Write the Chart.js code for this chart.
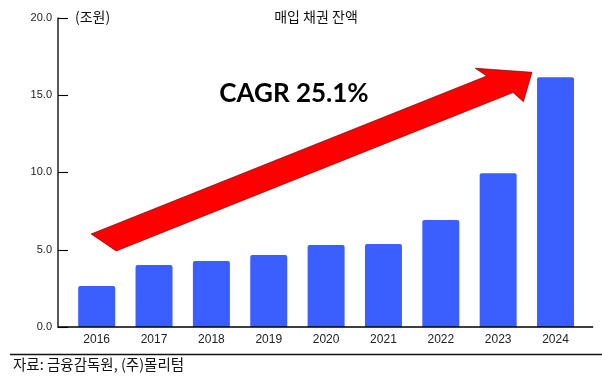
<!DOCTYPE html>
<html>
<head>
<meta charset="utf-8">
<script src="https://cdn.jsdelivr.net/npm/chart.js@4/dist/chart.umd.min.js"></script>
<style>
  html, body { margin: 0; padding: 0; background: #fff; }
  #wrap { position: relative; width: 602px; height: 381px; }
</style>
</head>
<body>
<div id="wrap"><canvas id="c" width="602" height="381"></canvas></div>
<script>
const categories = ['2016', '2017', '2018', '2019', '2020', '2021', '2022', '2023', '2024'];
const balance = [2.65, 4.0, 4.27, 4.65, 5.3, 5.37, 6.92, 9.93, 16.14];
const yTicks = [0, 5, 10, 15, 20];
const titleText = '매입 채권 잔액';
const unitText = '(조원)';
const sourceText = '자료: 금융감독원, (주)몰리텀';
const cagrText = 'CAGR 25.1%';

// Arrow annotation in data space: [category index, value]
const arrowShape = [
  [-0.096, 6.01], [6.80, 16.22], [6.60, 16.72], [7.59, 16.46],
  [7.44, 14.56], [7.26, 15.15], [0.34, 4.91]
];
const cagrAnchor = [3.44, 15.1];

const KFONT = '"Noto Sans CJK KR", "Noto Sans", sans-serif';

const decor = {
  id: 'decor',
  afterDatasetsDraw(chart) {
    const ctx = chart.ctx;
    const x = chart.scales.x, y = chart.scales.y;
    const area = chart.chartArea;
    ctx.save();
    // arrow
    ctx.beginPath();
    arrowShape.forEach((p, i) => {
      const px = x.getPixelForValue(p[0]);
      const py = y.getPixelForValue(p[1]);
      if (i === 0) ctx.moveTo(px, py); else ctx.lineTo(px, py);
    });
    ctx.closePath();
    ctx.fillStyle = '#FF0000';
    ctx.fill();
    ctx.strokeStyle = 'rgba(110,0,0,0.75)';
    ctx.lineWidth = 0.9;
    ctx.stroke();

    // CAGR text
    ctx.fillStyle = '#000';
    ctx.font = 'bold 26px Lato, "Liberation Sans", sans-serif';
    ctx.textAlign = 'center';
    ctx.textBaseline = 'middle';
    ctx.fillText(cagrText, x.getPixelForValue(cagrAnchor[0]), y.getPixelForValue(cagrAnchor[1]));

    // axes
    const axL = area.left - 10;
    const yBot = y.getPixelForValue(0);
    const yTop = y.getPixelForValue(20);
    ctx.strokeStyle = '#000';
    ctx.lineWidth = 1.3;
    ctx.beginPath();
    ctx.moveTo(axL, yTop);
    ctx.lineTo(axL, yBot);
    ctx.lineTo(area.right + 9, yBot);
    ctx.stroke();
    ctx.lineWidth = 1.1;
    yTicks.forEach(v => {
      const py = Math.round(y.getPixelForValue(v)) + 0.5;
      ctx.beginPath();
      ctx.moveTo(axL, py);
      ctx.lineTo(area.left, py);
      ctx.stroke();
    });

    // title & unit
    ctx.font = '14px ' + KFONT;
    ctx.textBaseline = 'middle';
    ctx.fillStyle = '#111';
    ctx.textAlign = 'center';
    ctx.fillText(titleText, 316, 17);
    ctx.textAlign = 'left';
    ctx.fillText(unitText, 75, 17);

    // source line and text
    ctx.strokeStyle = '#111';
    ctx.lineWidth = 1.4;
    ctx.beginPath();
    ctx.moveTo(10, 354.5);
    ctx.lineTo(602, 354.5);
    ctx.stroke();
    ctx.fillStyle = '#111';
    ctx.textAlign = 'left';
    ctx.font = '14.5px ' + KFONT;
    ctx.fillText(sourceText, 13, 364.5);
    ctx.restore();
  }
};

new Chart(document.getElementById('c'), {
  type: 'bar',
  data: {
    labels: categories,
    datasets: [{
      data: balance,
      backgroundColor: '#3A5EFF',
      borderWidth: 0,
      borderRadius: { topLeft: 2, topRight: 2, bottomLeft: 0, bottomRight: 0 },
      borderSkipped: false,
      categoryPercentage: 1,
      barPercentage: 0.645
    }]
  },
  options: {
    responsive: false,
    animation: false,
    devicePixelRatio: 1,
    layout: { padding: { top: 17.5, right: 17.8, bottom: 0, left: 0 } },
    plugins: { legend: { display: false }, tooltip: { enabled: false }, title: { display: false } },
    scales: {
      x: {
        grid: { display: false, drawTicks: false },
        border: { display: false },
        ticks: { color: '#222', font: { family: '"Liberation Sans", Arial, sans-serif', size: 12 }, padding: 5 },
        afterFit(s) { s.height = 54; }
      },
      y: {
        min: 0, max: 20,
        afterBuildTicks(s) { s.ticks = yTicks.map(v => ({ value: v })); },
        grid: { display: false, drawTicks: true, tickLength: 16 },
        border: { display: false },
        ticks: {
          color: '#222',
          font: { family: '"Liberation Sans", Arial, sans-serif', size: 11 },
          padding: 0,
          callback: v => Number(v).toFixed(1)
        },
        afterFit(s) { s.width = 68; }
      }
    }
  },
  plugins: [decor]
});
</script>
</body>
</html>
